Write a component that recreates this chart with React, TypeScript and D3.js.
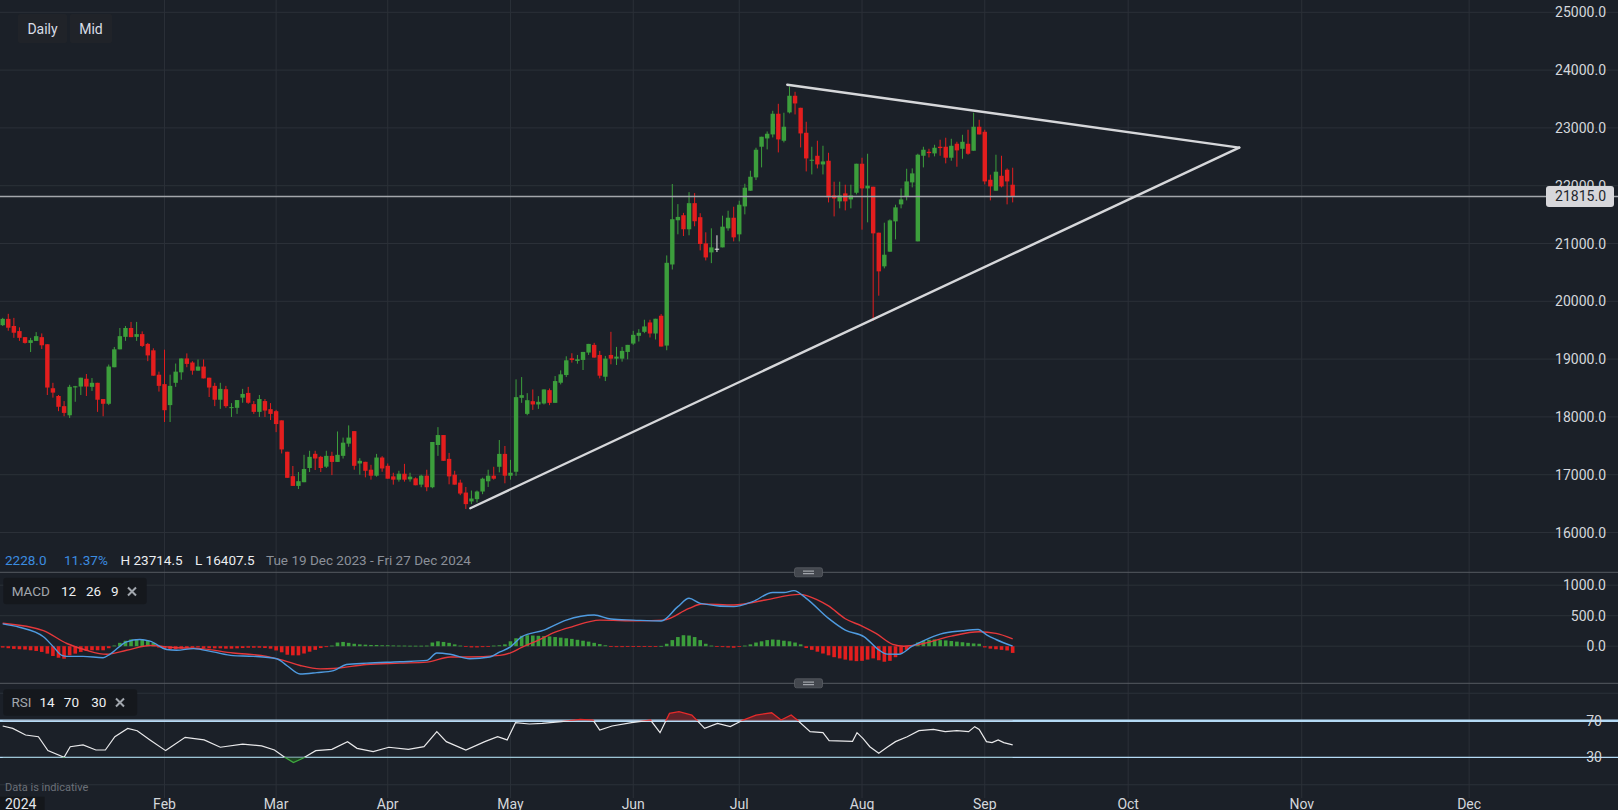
import React, { useEffect } from 'react';
import * as d3 from 'd3';

const W = 1618;
const H = 810;

// ---- OHLC data (trading days, 19 Dec 2023 .. 10 Sep 2024) ----
const opens = [19587,19696,19573,19485,19380,19280,19315,19380,19257,18496,18362,18186,18028,18510,18525,18660,18520,18590,18309,18227,18859,19169,19385,19538,19385,19432,19263,19152,18730,18567,18204,18590,18771,19011,18941,18800,18871,18678,18537,18297,18479,18157,18157,18333,18415,18221,18087,18274,18134,18099,17940,17397,16975,16806,16870,17116,17361,17309,17139,17326,17221,17326,17537,17754,17194,17223,17086,16983,17297,17154,16971,16914,17017,16920,16937,16828,16983,16783,17514,17686,17274,17000,16863,16691,16537,16577,16709,16886,16983,17137,17360,16983,17051,18330,18052,18272,18215,18232,18463,18243,18591,18724,19014,18968,18985,19113,19246,19072,18695,19072,19008,19008,19124,19269,19403,19472,19634,19443,19750,19234,20637,21402,21489,21246,21698,21455,21002,20846,20910,20933,21262,21446,21158,21642,21913,22144,22674,22818,22887,23245,22778,23268,23556,23348,22916,22438,22518,22368,22432,21832,21729,21867,21763,21878,22380,21953,21982,21187,20605,20858,21383,21677,21815,22057,21037,22518,22587,22559,22674,22674,22484,22726,22639,22726,22605,23020,22933,22103,21913,22172,22276,22017];
const highs = [19713,19783,19713,19549,19380,19368,19467,19444,19257,18590,18379,18274,18555,18537,18678,18742,18672,18590,18309,18906,19210,19538,19573,19643,19643,19479,19280,19187,18783,19163,18730,18923,19011,19099,18964,18994,18994,18678,18590,18590,18537,18239,18291,18485,18520,18274,18379,18309,18239,18122,17940,17397,17151,17046,17344,17414,17414,17326,17414,17397,17748,17642,17853,17754,17286,17223,17171,17360,17320,17194,17034,17068,17188,17034,16954,17000,17086,17566,17823,17686,17377,17068,16914,16788,16726,16726,16948,17086,17137,17600,17497,17257,18649,18689,18411,18475,18359,18475,18492,18707,18805,19049,19101,19072,19124,19263,19281,19142,19055,19472,19211,19211,19246,19489,19518,19681,19681,19698,19779,20794,22029,21681,21530,21889,21872,21524,21194,21263,21142,21481,21567,21636,21740,22034,22259,22657,22847,22939,23296,23417,23262,23714.5,23625,23348,23106,22674,22778,22691,22570,22069,22069,22017,22017,22380,22484,22553,21982,21187,21360,21417,21671,21953,22293,22299,22553,22674,22639,22708,22795,22830,22812,22760,22881,22968,23262,23140,22968,22190,22536,22518,22299,22311];
const lows = [19573,19491,19368,19315,19268,19122,19315,19175,18379,18333,18099,18011,17982,18262,18379,18362,18449,18087,18011,18204,18859,19169,19315,19380,19315,19210,18964,18713,18438,17911,17911,18520,18643,18859,18730,18800,18666,18344,18186,18139,18157,17999,18052,18245,18227,18052,17999,17999,17946,17736,17367,16946,16806,16753,16870,17046,17081,17046,17116,16993,17221,17280,17484,17086,17000,16954,16914,16966,17051,16931,16828,16880,16880,16880,16817,16783,16714,16766,17326,17240,16834,16828,16646,16407.5,16491,16520,16663,16788,16914,17040,16851,16914,16980,18243,18029,18121,18139,18215,18203,18243,18562,18689,18939,18921,18811,19072,19026,18666,18620,18910,18898,18956,18997,19246,19304,19449,19374,19339,19217,19153,20550,21159,21130,21142,21298,20881,20707,20660,20852,20933,21221,21037,21037,21504,21913,22097,22317,22628,22835,22576,22749,23250,23233,22662,22247,22195,22299,22195,21711,21469,21608,21573,21608,21850,21239,21366,19665,20097,20570,20858,21071,21608,21746,21971,21037,22317,22489,22507,22518,22386,22432,22328,22466,22536,22605,22887,22023,21746,21913,21971,21677,21711];
const closes = [19696,19543,19456,19368,19280,19327,19397,19239,18508,18420,18175,18069,18520,18530,18678,18525,18590,18297,18227,18871,19169,19397,19538,19380,19432,19228,19064,18713,18537,18116,18537,18783,19011,18917,18800,18871,18666,18508,18297,18485,18186,18169,18291,18397,18245,18087,18309,18110,18052,17876,17437,16946,16806,16888,17098,17309,17280,17116,17326,17221,17344,17554,17642,17154,17240,17068,16983,17297,17108,16931,16914,17017,16914,16966,16817,16983,16783,17566,17686,17240,16971,16828,16674,16491,16588,16709,16931,16983,16931,17360,16983,17034,18342,18376,18289,18215,18261,18475,18243,18620,18736,18979,18985,18997,19124,19263,19026,18713,19008,19008,19043,19142,19246,19420,19455,19565,19443,19698,19217,20666,21420,21460,21246,21698,21385,20991,20759,20933,20910,21291,21446,21106,21671,21965,22155,22622,22847,22899,23245,22801,23020,23556,23423,22904,22472,22449,22368,22420,21798,21780,21832,21729,21832,22380,21953,22000,21175,20518,20806,21400,21625,21763,22074,22213,22536,22622,22564,22657,22651,22484,22691,22611,22760,22553,23020,22887,22074,21988,22242,21988,22074,21815];

// ---- axis ticks ----
const priceTicks = [16000, 17000, 18000, 19000, 20000, 21000, 22000, 23000, 24000, 25000];
const monthLabels = ['Feb', 'Mar', 'Apr', 'May', 'Jun', 'Jul', 'Aug', 'Sep', 'Oct', 'Nov', 'Dec'];
const monthIdx = [29, 49, 69, 91, 113, 132, 154, 176, 201.7, 232.8, 262.8];
const macdTicks = [0, 500, 1000];
const rsiTicks = [30, 70];
const lastPrice = 21815;

// ---- header / stats ----
const statChange = '2228.0';
const statPct = '11.37%';
const statHigh = 'H 23714.5';
const statLow = 'L 16407.5';
const statRange = 'Tue 19 Dec 2023 - Fri 27 Dec 2024';

// ---- trend lines (candle index, price) ----
const lowerTrendIdx = [83.8, 221.6];
const lowerTrendPx = [16420, 22659];
const upperTrendIdx = [140.6, 221.6];
const upperTrendPx = [23747, 22659];

// ---- MACD (12,26,9) ----
const macdIdx = [0,3,7.3,9.1,10.6,11.5,14.4,18,19.2,22.2,24.6,26.4,29.4,31.2,34.2,37.7,41.3,44.9,49.1,50.9,53.3,56.3,59.3,61.6,65.2,71.2,76,77.8,80.2,83.7,87.3,89.1,91,93,97,101,106,109,113,118,121,123,125,131,134.4,138,140,141.8,144,148,151,154.4,157,158.5,160.6,163,165,168,172,174.8,176.4,178,181];
const macdVal = [366,311,155,-11,-150,-166,-166,-189,-133,72,111,83,-55,-67,-39,-94,-155,-166,-205,-316,-455,-433,-400,-300,-278,-255,-233,-111,-133,-205,-178,-94,-11,154,264,428,511,445,428,412,648,785,703,648,730,880,880,911,785,456,264,154,-60,-130,-132,0,88,198,253,275,181,110,0];
const signalIdx = [0,7.3,11.5,15,18.6,22.2,26.4,30.6,35.4,41.3,47.3,50.3,53.3,56.9,59.3,65.2,71.2,76,80.2,83.2,89.1,91,93,96,99,102,107,114,118.4,123,125.3,131,136.7,142.8,146,148,151,154,156.5,159.5,161.5,165,170,175,178,181];
const signalVal = [377,255,44,-67,-133,-67,11,-22,-39,-111,-166,-233,-316,-372,-366,-300,-278,-261,-178,-178,-150,-110,-20,100,230,318,428,417,428,620,692,675,758,850,760,660,450,330,210,30,0,44,165,236,210,121];
const histVal = [-22,-33,-44,-50,-55,-67,-78,-94,-122,-161,-189,-205,-150,-122,-94,-78,-67,-67,-67,-33,11,55,89,111,117,111,89,55,-22,-44,-50,-50,-40,-30,-25,-20,-30,-35,-35,-35,-40,-40,-35,-30,-25,-25,-25,-30,-40,-70,-100,-140,-150,-150,-120,-90,-60,-30,-15,10,60,70,55,40,30,25,20,20,15,15,12,10,10,8,8,8,10,60,80,70,55,30,10,-10,-20,-20,-15,-5,10,15,30,80,130,170,180,175,170,165,160,150,140,130,120,105,90,75,55,35,15,-10,-15,-15,-12,-8,-5,-3,-2,-2,5,40,100,150,180,175,150,100,40,10,-10,-15,-20,-25,-10,10,30,60,80,100,110,105,90,80,60,30,-30,-60,-90,-120,-150,-180,-200,-220,-235,-245,-240,-220,-200,-230,-255,-240,-180,-120,-60,20,60,90,105,110,100,95,85,75,65,55,45,40,-20,-40,-50,-60,-70,-110];

// ---- RSI (14) ----
const rsiIdx = [0,1.8,4.1,6.4,8.1,11,12.1,14.4,16.7,18.4,20.1,22.4,24.1,26.4,29.2,32.7,36.1,39,43,46.4,48.7,50.4,52.1,53.8,56.1,59,61.8,63.5,66.4,69.2,72.7,75.5,77.8,79.5,83,86.4,88.7,90.4,91.9,94.4,96.7,100.1,103.5,105.8,107,109.2,112.7,116.1,117.8,119.5,121.2,123.5,125.8,128.1,130.4,132.7,135,137.8,139.5,141.3,142.4,144.7,147,148.1,152.3,153.1,154.2,155.4,157,158.5,160,162.1,164.2,166.8,168.9,171,173.1,174.2,175,176.3,177.3,178.4,179.4,181];
const rsiVal = [64.2,61.6,54.4,52.5,37.3,30,41.6,43.5,38,38,52.5,61.6,59,49,37.3,51.8,49,41,44.5,42.4,38,30.7,24.2,29,37.3,38.7,47.1,39.8,36.2,41,38.7,41.6,58,47.1,38,47.1,52.5,49,67.8,66.4,67.1,68.9,71.5,70.7,59.8,64.2,67.8,70.7,56.9,78,79.8,76.2,61.6,67.1,63.5,70.7,76.2,78.7,70.7,76.2,70.7,58,56.9,48.2,47.5,56.9,50.4,41.6,34.4,41,47.1,52.5,59.1,60.5,58,59.1,58,63.5,60.5,47.1,46,49,46,43.5];

const BG = '#1b2028';
const GRID = '#2b3038';
const GREEN = '#3c9e3c';
const RED = '#e31e1e';
const FONT = 'Roboto, "Noto Sans", sans-serif';

export default function App() {
  useEffect(() => {
    document.body.style.margin = '0';
    document.body.style.overflow = 'hidden';
    document.body.style.background = BG;
  }, []);

  const x = d3.scaleLinear().domain([0, 181]).range([2.7, 2.7 + 181 * 5.58]);
  const y = d3.scaleLinear().domain([16000, 25000]).range([532.5, 12.3]);
  const ym = d3.scaleLinear().domain([0, 1000]).range([646.2, 585.2]);
  const yr = d3.scaleLinear().domain([30, 70]).range([757.3, 720.7]);

  const macdLine = d3.line<number>().x((_, i) => x(macdIdx[i])).y((d) => ym(d)).curve(d3.curveMonotoneX);
  const signalLine = d3.line<number>().x((_, i) => x(signalIdx[i])).y((d) => ym(d)).curve(d3.curveMonotoneX);
  const rsiLine = d3.line<number>().x((_, i) => x(rsiIdx[i])).y((d) => yr(d));
  const rsiArea = d3.area<number>().x((_, i) => x(rsiIdx[i])).y0(yr(70)).y1((d) => yr(d));
  const rsiAreaLow = d3.area<number>().x((_, i) => x(rsiIdx[i])).y0(yr(30)).y1((d) => yr(d));

  const fmt = (v: number) => v.toFixed(1);

  return (
    <svg width={W} height={H} style={{ display: 'block', position: 'absolute', left: 0, top: 0 }} fontFamily={FONT}>
      <defs>
        <clipPath id="above70"><rect x={0} y={0} width={W} height={yr(70)} /></clipPath>
        <clipPath id="below30"><rect x={0} y={yr(30)} width={W} height={H} /></clipPath>
        <clipPath id="mid"><rect x={0} y={yr(70)} width={W} height={yr(30) - yr(70)} /></clipPath>
      </defs>
      <rect x={0} y={0} width={W} height={H} fill={BG} />

      {/* vertical month grid */}
      {monthIdx.map((m, i) => (
        <line key={'vg' + i} x1={x(m)} x2={x(m)} y1={0} y2={798} stroke={GRID} strokeWidth={1} />
      ))}

      {/* price grid */}
      {priceTicks.map((p) => (
        <line key={'pg' + p} x1={0} x2={W} y1={y(p)} y2={y(p)} stroke={GRID} strokeWidth={1} />
      ))}

      {/* MACD grid */}
      {macdTicks.map((v) => (
        <line key={'mg' + v} x1={0} x2={W} y1={ym(v)} y2={ym(v)} stroke={GRID} strokeWidth={1} />
      ))}
      {/* RSI grid (0 and 100) */}
      {[0, 100].map((v) => (
        <line key={'rg' + v} x1={0} x2={W} y1={yr(v)} y2={yr(v)} stroke={GRID} strokeWidth={1} />
      ))}

      {/* pane separators */}
      <line x1={0} x2={W} y1={572.3} y2={572.3} stroke="#565a61" strokeWidth={1} />
      <line x1={0} x2={W} y1={683.3} y2={683.3} stroke="#565a61" strokeWidth={1} />
      {[572.3, 683.3].map((yy, i) => (
        <g key={'hd' + i}>
          <rect x={794.5} y={yy - 4.5} width={28} height={9} rx={2} fill="#43474e" stroke="#5a5e65" strokeWidth={0.8} />
          <line x1={803} x2={814} y1={yy - 1.2} y2={yy - 1.2} stroke="#b8bcc2" strokeWidth={1} />
          <line x1={803} x2={814} y1={yy + 1.4} y2={yy + 1.4} stroke="#b8bcc2" strokeWidth={1} />
        </g>
      ))}

      {/* candles */}
      {closes.map((c, i) => {
        const o = opens[i];
        const col = o === c ? '#e6e6e6' : c > o ? GREEN : RED;
        const cx = x(i);
        const top = y(Math.max(o, c));
        const bot = y(Math.min(o, c));
        return (
          <g key={'c' + i}>
            <line x1={cx} x2={cx} y1={y(highs[i])} y2={y(lows[i])} stroke={col} strokeWidth={1} />
            <rect x={cx - 2.2} y={top} width={4.4} height={Math.max(1, bot - top)} fill={col} />
          </g>
        );
      })}

      {/* last price line */}
      <line x1={0} x2={W} y1={y(lastPrice)} y2={y(lastPrice)} stroke="#a3a6ab" strokeWidth={1.5} />

      {/* trend lines */}
      <line x1={x(lowerTrendIdx[0])} y1={y(lowerTrendPx[0])} x2={x(lowerTrendIdx[1])} y2={y(lowerTrendPx[1])} stroke="#d6d7da" strokeWidth={2.4} strokeLinecap="round" />
      <line x1={x(upperTrendIdx[0])} y1={y(upperTrendPx[0])} x2={x(upperTrendIdx[1])} y2={y(upperTrendPx[1])} stroke="#d6d7da" strokeWidth={2.4} strokeLinecap="round" />

      {/* price axis labels */}
      {priceTicks.map((p) => (
        <text key={'pl' + p} x={1606} y={y(p)} dy="0.36em" textAnchor="end" fontSize={14} fill="#d4d7dc">{fmt(p)}</text>
      ))}
      <rect x={1546} y={y(lastPrice) - 10.5} width={68} height={21} rx={3} fill="#d7d7db" />
      <text x={1606} y={y(lastPrice)} dy="0.36em" textAnchor="end" fontSize={14} fill="#22262d">{fmt(lastPrice)}</text>

      {/* Daily / Mid buttons */}
      <rect x={18} y={14} width={49} height={29} rx={2} fill="#202329" />
      <text x={42.5} y={29} dy="0.36em" textAnchor="middle" fontSize={14} fill="#d8dde6">Daily</text>
      <rect x={70} y={14} width={42} height={29} rx={2} fill="#202329" />
      <text x={91} y={29} dy="0.36em" textAnchor="middle" fontSize={14} fill="#d8dde6">Mid</text>

      {/* stats line */}
      <text y={560.5} dy="0.36em" fontSize={13.5}>
        <tspan x={5} fill="#3b8de0">{statChange}</tspan>
        <tspan x={64} fill="#3b8de0">{statPct}</tspan>
        <tspan x={120.5} fill="#eceef1">{statHigh}</tspan>
        <tspan x={195} fill="#eceef1">{statLow}</tspan>
        <tspan x={266} fill="#8b9099">{statRange}</tspan>
      </text>

      {/* MACD pane */}
      {histVal.map((v, i) => (
        <rect key={'h' + i} x={x(i) - 1.8} y={Math.min(ym(v), ym(0))} width={3.6} height={Math.max(0.8, Math.abs(ym(v) - ym(0)))} fill={v >= 0 ? GREEN : RED} />
      ))}
      <path d={signalLine(signalVal) || ''} fill="none" stroke="#e5383b" strokeWidth={1.4} />
      <path d={macdLine(macdVal) || ''} fill="none" stroke="#4f9be0" strokeWidth={1.4} />
      <rect x={3.3} y={577.7} width={143.4} height={26.6} rx={3} fill="#15181d" />
      <text y={591} dy="0.36em" fontSize={13.5}>
        <tspan x={11.7} fill="#a2a7ae">MACD</tspan>
        <tspan x={61} fill="#eef0f2">12</tspan>
        <tspan x={86} fill="#eef0f2">26</tspan>
        <tspan x={111} fill="#eef0f2">9</tspan>
      </text>
      <path d="M128,587.5 L136,595.5 M136,587.5 L128,595.5" stroke="#a2a7ae" strokeWidth={2} />
      {macdTicks.map((v) => (
        <text key={'ml' + v} x={1606} y={ym(v)} dy="0.36em" textAnchor="end" fontSize={14} fill="#d4d7dc">{fmt(v)}</text>
      ))}

      {/* RSI pane */}
      <line x1={0} x2={W} y1={yr(70)} y2={yr(70)} stroke="#b4daf5" strokeWidth={2.4} />
      <line x1={0} x2={W} y1={yr(30)} y2={yr(30)} stroke="#b4daf5" strokeWidth={1.3} />
      <path d={rsiArea(rsiVal) || ''} fill="#6a2329" opacity={0.85} clipPath="url(#above70)" />
      <path d={rsiAreaLow(rsiVal) || ''} fill="#1f4a22" opacity={0.85} clipPath="url(#below30)" />
      <path d={rsiLine(rsiVal) || ''} fill="none" stroke="#e8e8ea" strokeWidth={1.2} clipPath="url(#mid)" />
      <path d={rsiLine(rsiVal) || ''} fill="none" stroke="#e52a2a" strokeWidth={1.3} clipPath="url(#above70)" />
      <path d={rsiLine(rsiVal) || ''} fill="none" stroke="#3faa3f" strokeWidth={1.3} clipPath="url(#below30)" />
      <rect x={3.2} y={689.3} width={134} height={26.4} rx={3} fill="#15181d" />
      <text y={702.5} dy="0.36em" fontSize={13.5}>
        <tspan x={11.5} fill="#a2a7ae">RSI</tspan>
        <tspan x={39.5} fill="#eef0f2">14</tspan>
        <tspan x={63.8} fill="#eef0f2">70</tspan>
        <tspan x={91.2} fill="#eef0f2">30</tspan>
      </text>
      <path d="M116,698.5 L124,706.5 M124,698.5 L116,706.5" stroke="#a2a7ae" strokeWidth={2} />
      {rsiTicks.map((v) => (
        <text key={'rl' + v} x={1602} y={yr(v)} dy="0.36em" textAnchor="end" fontSize={14} fill="#d4d7dc">{v}</text>
      ))}
      <text x={5} y={787} dy="0.36em" fontSize={11} fill="#6b7078">Data is indicative</text>

      {/* time axis */}
      <rect x={0} y={796.7} width={44.6} height={14} fill="#14171b" />
      <text x={5} y={808.5} fontSize={14} fill="#e4e6ea">2024</text>
      {monthIdx.map((m, i) => (
        <text key={'mt' + i} x={x(m)} y={808.5} textAnchor="middle" fontSize={14} fill="#d4d7dc">{monthLabels[i]}</text>
      ))}
    </svg>
  );
}
